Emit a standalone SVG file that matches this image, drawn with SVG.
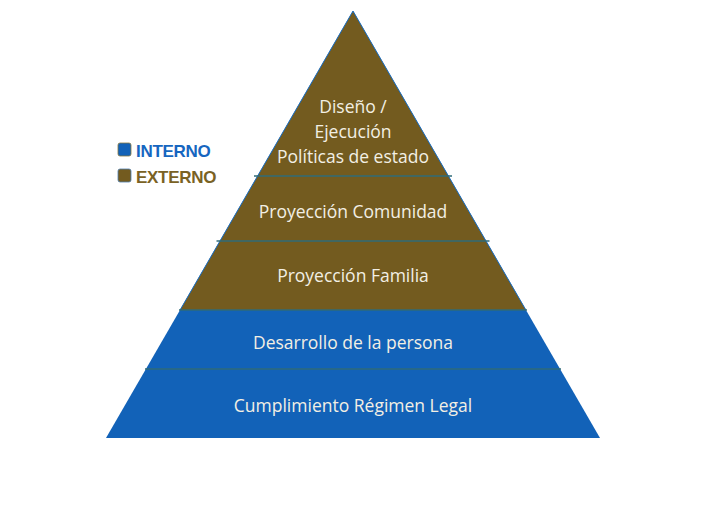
<svg xmlns="http://www.w3.org/2000/svg" width="704" height="518" viewBox="0 0 704 518">
<style>
.lbl{font-family:"Open Sans","Noto Sans",sans-serif;font-size:17.5px;fill:#f2efe4;text-anchor:middle}
.leg{font-family:"Liberation Sans",Arial,sans-serif;font-weight:bold;font-size:17px;letter-spacing:-0.3px}
.div{stroke:#2f6b78;stroke-width:1.5}
</style>
<rect width="704" height="518" fill="#ffffff"/>
<g id="pyramid">
<polygon points="353,11 106,438 600,438" fill="#1262b8"/>
<polygon points="353,11 180.1,310 525.9,310" fill="#735b1f"/>
<polyline points="180.1,310 353,11 525.9,310" fill="none" stroke="#1e6fc0" stroke-width="1"/>
</g>
<g id="connectors">
<line class="div" x1="254" y1="176" x2="452" y2="176"/>
<line class="div" x1="216.5" y1="241" x2="489.5" y2="241"/>
<line class="div" x1="179" y1="310" x2="527" y2="310"/>
<line class="div" x1="145" y1="369" x2="561" y2="369"/>
</g>
<g id="n-diseno">
<text class="lbl" x="353" y="113">Diseño /</text>
<text class="lbl" x="353" y="138">Ejecución</text>
<text class="lbl" x="353" y="163">Políticas de estado</text>
</g>
<g id="n-comunidad"><text class="lbl" x="353" y="218">Proyección Comunidad</text></g>
<g id="n-familia"><text class="lbl" x="353" y="282">Proyección Familia</text></g>
<g id="n-desarrollo"><text class="lbl" x="353" y="349">Desarrollo de la persona</text></g>
<g id="n-cumplimiento"><text class="lbl" x="353" y="412">Cumplimiento Régimen Legal</text></g>
<g id="legend">
<rect x="118" y="143" width="13" height="13" rx="2" fill="#1262b8" stroke="#8a7a40" stroke-width="0.8"/>
<text class="leg" x="136" y="157" fill="#1666c0">INTERNO</text>
<rect x="118" y="169" width="13" height="13" rx="2" fill="#735b1f" stroke="#4f7fb0" stroke-width="0.8"/>
<text class="leg" x="136" y="183" fill="#7a6224">EXTERNO</text>
</g>
</svg>
